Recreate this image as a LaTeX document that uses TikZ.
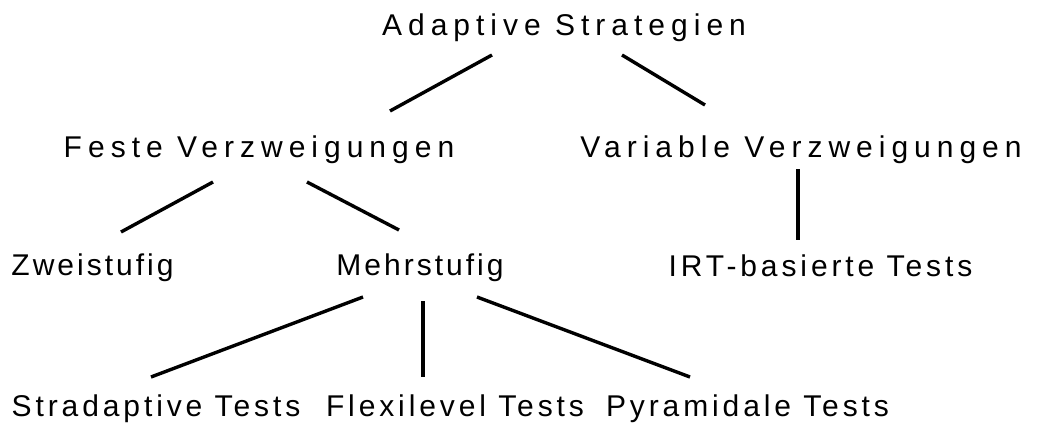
\documentclass[tikz,border=0pt]{standalone}
\usepackage{fontspec}
\setmainfont{Liberation Sans}
\newfontfamily\widefont[LetterSpace=20]{Liberation Sans}
\newfontfamily\midfont[LetterSpace=10]{Liberation Sans}
\newfontfamily\narrowfont[LetterSpace=13]{Liberation Sans}
\begin{document}
\begin{tikzpicture}[x=1pt,y=-1pt,
  wide/.style={inner sep=0pt,anchor=base,font=\widefont\fontsize{30}{36}\selectfont},
  mid/.style={inner sep=0pt,anchor=base,font=\midfont\fontsize{30}{36}\selectfont},
  narrow/.style={inner sep=0pt,anchor=base,font=\narrowfont\fontsize{30}{36}\selectfont},
  diag/.style={line width=3.4pt},
  vert/.style={line width=4.5pt}]
\useasboundingbox (0,0) rectangle (1038,423);
\node[wide] (A) at (564,35) {Adaptive Strategien};
\node[wide] (F) at (259,157) {Feste Verzweigungen};
\node[wide] (V) at (801,157) {Variable Verzweigungen};
\node[mid] (Z) at (92.5,275) {Zweistufig};
\node[mid] (M) at (420,275) {Mehrstufig};
\node[narrow] (I) at (820.5,276) {IRT-basierte Tests};
\node[narrow] (S) at (156,416) {Stradaptive Tests};
\node[narrow] (Fl) at (455,416) {Flexilevel Tests};
\node[narrow] (P) at (747.5,416) {Pyramidale Tests};
\coordinate (a1) at (492,55); \coordinate (f1) at (390,111);
\coordinate (a2) at (622,55); \coordinate (v1) at (705,105);
\coordinate (f2) at (213,182); \coordinate (z1) at (121,232);
\coordinate (f3) at (307,182); \coordinate (m1) at (399,230);
\coordinate (v2) at (798,169); \coordinate (i1) at (798,240);
\coordinate (m2) at (363,297); \coordinate (s1) at (151,377);
\coordinate (m3) at (423,301); \coordinate (fl1) at (423,377);
\coordinate (m4) at (477,297); \coordinate (p1) at (690,377);
\draw[diag] (a1) -- (f1);
\draw[diag] (a2) -- (v1);
\draw[diag] (f2) -- (z1);
\draw[diag] (f3) -- (m1);
\draw[vert] (v2) -- (i1);
\draw[diag] (m2) -- (s1);
\draw[vert] (m3) -- (fl1);
\draw[diag] (m4) -- (p1);
\end{tikzpicture}
\end{document}
